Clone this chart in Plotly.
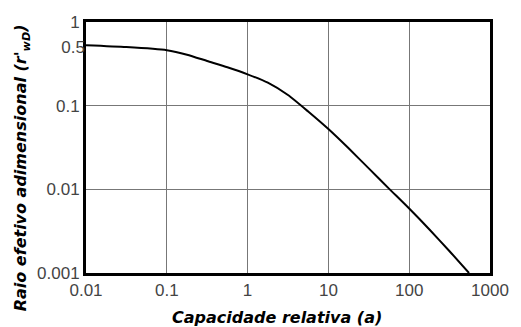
import plotly.graph_objects as go

capacidade = [0.01, 0.0316, 0.1, 0.178, 0.316, 0.562, 1, 1.78, 3.16, 5.62,
              10, 17.8, 31.6, 56.2, 100, 178, 316, 550]
raio = [0.527, 0.501, 0.46, 0.407, 0.342, 0.288, 0.237, 0.188, 0.134, 0.0851,
        0.0525, 0.0309, 0.0178, 0.0102, 0.00589, 0.00331, 0.00182, 0.001]

x_ticks = [0.01, 0.1, 1, 10, 100, 1000]
x_labels = ["0.01", "0.1", "1", "10", "100", "1000"]
y_ticks = [0.001, 0.01, 0.1, 1]
y_labels = ["0.001", "0.01", "0.1", "1"]
y_extra = [0.5]
y_extra_labels = ["0.5"]
x_title = "Capacidade relativa (a)"
y_title = "Raio efetivo adimensional (r'<sub>wD</sub>)"

fig = go.Figure()
fig.add_trace(go.Scatter(x=capacidade, y=raio, mode="lines",
                         line=dict(color="black", width=2, shape="spline", smoothing=0.6),
                         showlegend=False))
fig.add_trace(go.Scatter(x=[capacidade[0]], y=[raio[0]], yaxis="y2", mode="lines",
                         line=dict(width=0), showlegend=False, hoverinfo="skip"))

tickfont = dict(family="Liberation Sans, Arial", size=17, color="#444")
titlefont = dict(family="DejaVu Sans", size=16, color="black", weight="bold", style="italic")

fig.update_layout(
    width=521, height=327,
    margin=dict(l=86, r=20, t=22, b=54),
    paper_bgcolor="white", plot_bgcolor="white",
    xaxis=dict(type="log", range=[-2, 3], tickvals=x_ticks, ticktext=x_labels,
               showgrid=True, gridcolor="#777", gridwidth=1,
               showline=True, linecolor="black", linewidth=3, mirror=True,
               ticks="", tickfont=tickfont, zeroline=False),
    yaxis=dict(type="log", range=[-3, 0], tickvals=y_ticks, ticktext=y_labels,
               showgrid=True, gridcolor="#777", gridwidth=1,
               showline=True, linecolor="black", linewidth=3, mirror=True,
               ticks="", tickfont=tickfont, zeroline=False),
    yaxis2=dict(type="log", range=[-3, 0], overlaying="y", side="left",
                tickvals=y_extra, ticktext=y_extra_labels, showgrid=False,
                showline=False, ticks="", tickfont=tickfont, zeroline=False),
    annotations=[
        dict(text=x_title, xref="paper", yref="paper", x=0.472, y=-0.179,
             xanchor="center", yanchor="middle", showarrow=False, font=titlefont),
        dict(text=y_title, xref="paper", yref="paper", x=-0.159, y=0.42,
             xanchor="center", yanchor="middle", textangle=-90, showarrow=False,
             font=titlefont),
    ],
)

fig.write_html("out.html")
